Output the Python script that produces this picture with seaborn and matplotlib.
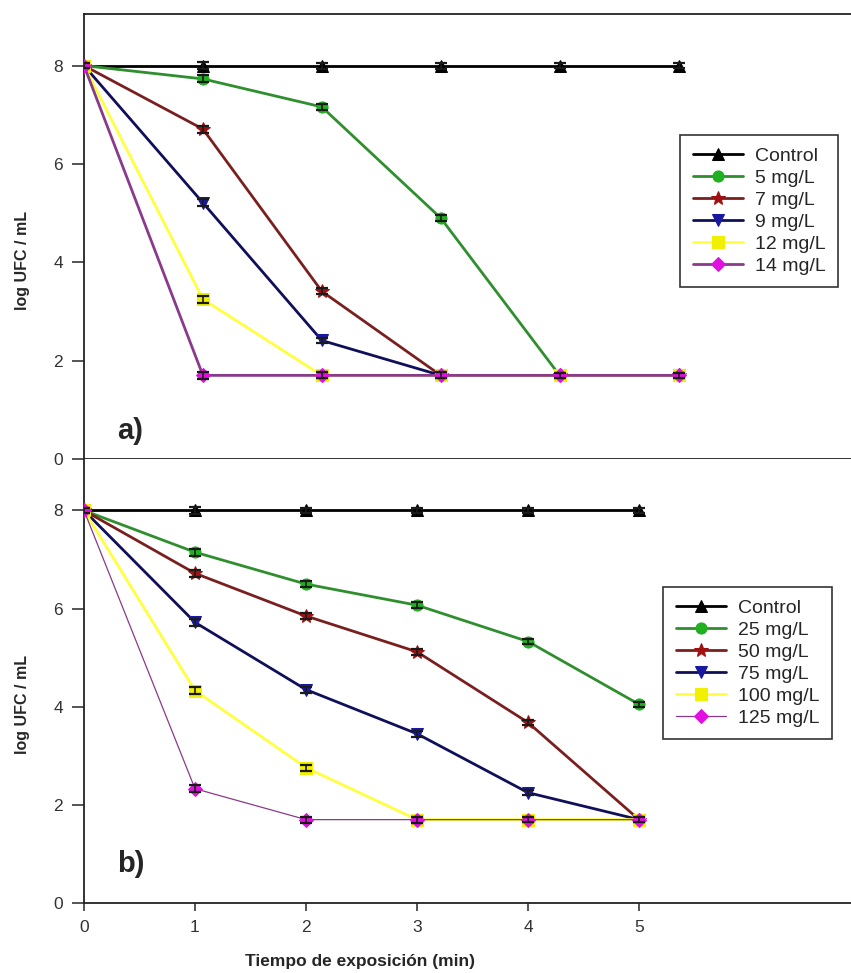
import matplotlib
matplotlib.use('Agg')
import matplotlib.pyplot as plt
import seaborn as sns
import pandas as pd

sns.set_style('ticks')
plt.rcParams['font.family'] = ['Liberation Sans', 'DejaVu Sans']

# tiempo de exposicion (min)
tiempo = [0, 1, 2, 3, 4, 5]

# panel a)
labels_a = ['Control', '5 mg/L', '7 mg/L', '9 mg/L', '12 mg/L', '14 mg/L']
control_a = [8.0, 8.0, 8.0, 8.0, 8.0, 8.0]
mg5 = [8.0, 7.73, 7.16, 4.9, 1.7, 1.7]
mg7 = [8.0, 6.71, 3.41, 1.7, 1.7, 1.7]
mg9 = [8.0, 5.21, 2.41, 1.7, 1.7, 1.7]
mg12 = [8.0, 3.25, 1.7, 1.7, 1.7, 1.7]
mg14 = [8.0, 1.7, 1.7, 1.7, 1.7, 1.7]
err_a = [0.05, 0.07, 0.06, 0.06, 0.05, 0.05]

# panel b)
labels_b = ['Control', '25 mg/L', '50 mg/L', '75 mg/L', '100 mg/L', '125 mg/L']
control_b = [8.0, 8.0, 8.0, 8.0, 8.0, 8.0]
mg25 = [8.0, 7.15, 6.5, 6.07, 5.33, 4.05]
mg50 = [8.0, 6.72, 5.85, 5.12, 3.68, 1.7]
mg75 = [8.0, 5.72, 4.35, 3.45, 2.25, 1.7]
mg100 = [8.0, 4.33, 2.76, 1.7, 1.7, 1.7]
mg125 = [8.0, 2.33, 1.7, 1.7, 1.7, 1.7]
err_b = [0.05, 0.07, 0.06, 0.06, 0.05, 0.05]

line_cols = ['black', '#2f8f2f', '#7a1f1f', '#10105a', '#ffff40', '#8a3a8a']
mark_cols = ['black', '#20b020', '#a01010', '#1818a0', '#f0f000', '#e010e0']
markers = ['^', 'o', '*', 'v', 's', 'D']
msizes = [8, 8, 10, 8, 8, 7]

fig = plt.figure(figsize=(8.51, 9.73), dpi=100)
ax_a = fig.add_axes([0.0987, 0.5283, 0.9013, 0.4573])
ax_b = fig.add_axes([0.0987, 0.0719, 0.9013, 0.4564])


def draw(ax, series, labels, widths, err):
    for i, (y, lab) in enumerate(zip(series, labels)):
        df = pd.DataFrame({'t': tiempo, 'v': y})
        sns.lineplot(data=df, x='t', y='v', ax=ax, color=line_cols[i], lw=widths[i],
                     marker=markers[i], markersize=msizes[i],
                     markerfacecolor=mark_cols[i], markeredgecolor=mark_cols[i],
                     label=lab, zorder=3 + i)
        ax.errorbar(tiempo, y, yerr=err, fmt='none', ecolor='#1a1a1a',
                    elinewidth=1.2, capsize=4.5, capthick=1.6, zorder=3 + i)


draw(ax_a, [control_a, mg5, mg7, mg9, mg12, mg14], labels_a, [2, 2, 2, 2, 2, 2], err_a)
draw(ax_b, [control_b, mg25, mg50, mg75, mg100, mg125], labels_b, [2, 2, 2, 2, 2, 0.9], err_b)

ax_a.set_xlim(0, 6.45)
ax_b.set_xlim(0, 6.91)
for ax in (ax_a, ax_b):
    ax.set_ylim(0, 9.05)
    ax.set_yticks([0, 2, 4, 6, 8])
    ax.spines['right'].set_visible(False)
    for s in ax.spines.values():
        s.set_linewidth(1.3)
        s.set_color('#222222')
    ax.tick_params(axis='y', direction='out', length=9, width=1.1,
                   labelsize=12.5, labelcolor='#333333', pad=6)
    ax.set_ylabel('log UFC / mL', fontsize=11.5, fontweight='bold')
    ax.yaxis.set_label_coords(-0.07, 0.446)
    ax.set_xlabel('')

ax_a.set_xticks([])
ax_b.set_xticks(tiempo)
ax_b.tick_params(axis='x', direction='out', length=6, width=1.1,
                 labelsize=12.5, labelcolor='#333333', pad=6)
ax_b.spines['top'].set_visible(False)
ax_b.set_xlabel('Tiempo de exposición (min)', fontsize=12.5, fontweight='bold')
ax_b.xaxis.set_label_coords(0.36, -0.115)

ax_a.text(0.043, 0.045, 'a)', transform=ax_a.transAxes, fontsize=21, fontweight='bold')
ax_b.text(0.043, 0.07, 'b)', transform=ax_b.transAxes, fontsize=21, fontweight='bold')

for ax, loc in ((ax_a, (0.777, 0.728)), (ax_b, (0.755, 0.712))):
    leg = ax.legend(loc='upper left', bbox_to_anchor=loc, fontsize=14, frameon=True,
                    fancybox=False, framealpha=1, edgecolor='#333333',
                    handlelength=2.6, handletextpad=0.6, labelspacing=0.22,
                    borderpad=0.65, borderaxespad=0)
    leg.get_frame().set_linewidth(1.2)

fig.savefig('out.png', dpi=100)
